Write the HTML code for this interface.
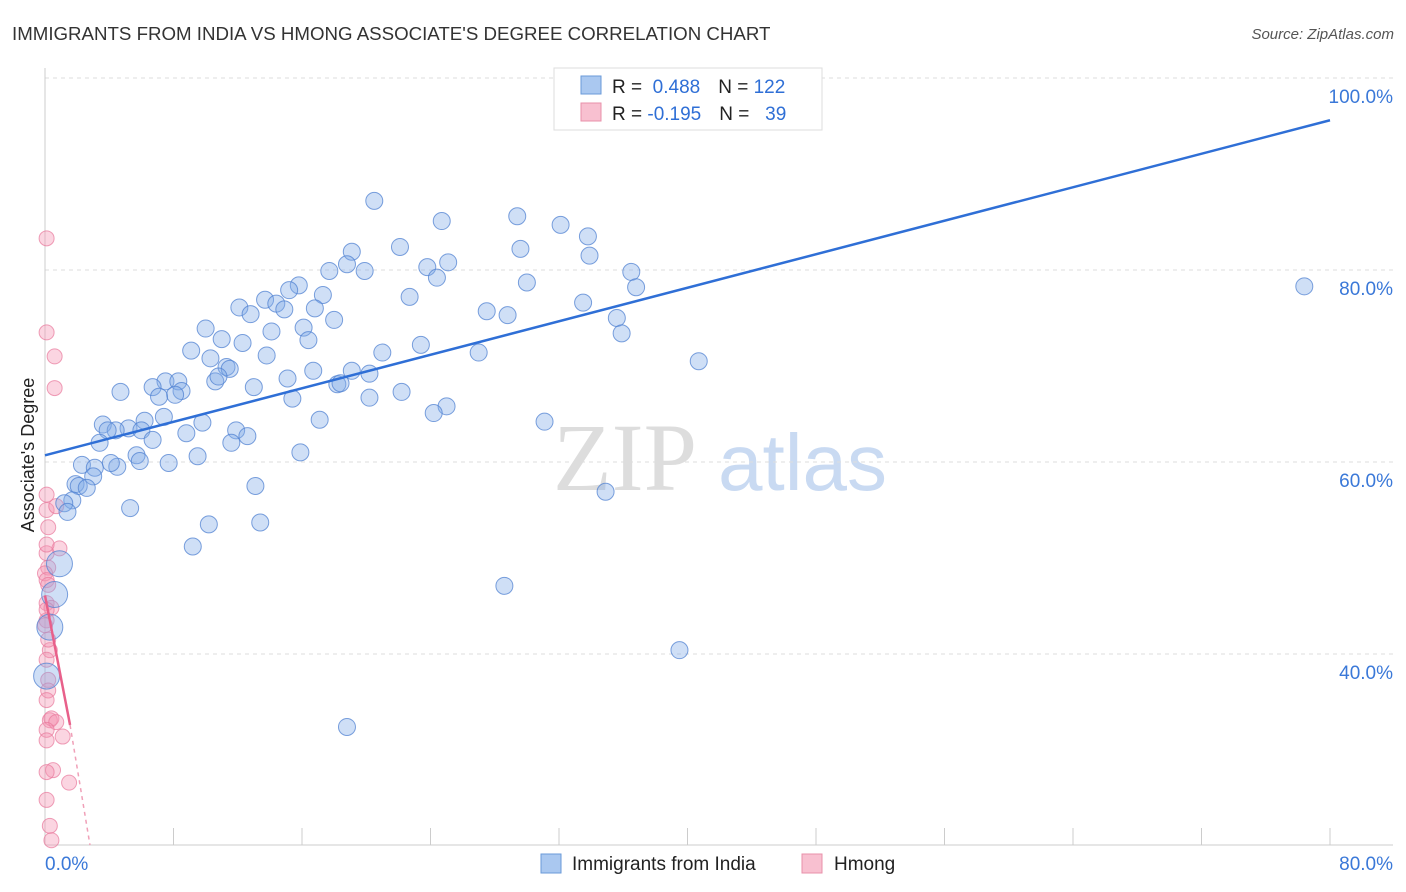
<!DOCTYPE html>
<html><head><meta charset="utf-8"><style>
body{margin:0;background:#fff;font-family:"Liberation Sans",sans-serif;}
svg{display:block}
</style></head><body>
<svg id="chart" width="1406" height="892" font-family="Liberation Sans, sans-serif">
<text x="12" y="40" font-size="18.7" fill="#333">IMMIGRANTS FROM INDIA VS HMONG ASSOCIATE'S DEGREE CORRELATION CHART</text>
<text x="1394" y="39" font-size="15" fill="#555" font-style="italic" text-anchor="end">Source: ZipAtlas.com</text>
<g>
<text x="553" y="490" font-size="96" font-family="Liberation Serif, serif" fill="#ddd">ZIP</text>
<text x="718" y="490" font-size="80" fill="#c9daf2">atlas</text>
</g>
<g id="grid"></g>
<g id="axes"></g>
<g id="marks"></g>
<text transform="translate(34,455) rotate(-90)" font-size="18" fill="#222" text-anchor="middle">Associate's Degree</text>
<g>
<rect x="554" y="68" width="268" height="62" fill="#fff" stroke="#ddd"/>
<rect x="581" y="76" width="20" height="18" fill="#aac8f0" stroke="#6a9ad8"/>
<rect x="581" y="103" width="20" height="18" fill="#f8c0d0" stroke="#e890aa"/>
<text x="612" y="93" font-size="19" fill="#222">R = <tspan fill="#2f6fd6">&#160;0.488</tspan><tspan dx="18">N = </tspan><tspan fill="#2f6fd6">122</tspan></text>
<text x="612" y="120" font-size="19" fill="#222">R = <tspan fill="#2f6fd6">-0.195</tspan><tspan dx="18">N = </tspan><tspan fill="#2f6fd6">&#160;&#160;39</tspan></text>
</g>
<g>
<rect x="541" y="854" width="20" height="19" fill="#aac8f0" stroke="#6a9ad8"/>
<text x="572" y="870" font-size="19" fill="#222">Immigrants from India</text>
<rect x="802" y="854" width="20" height="19" fill="#f8c0d0" stroke="#e890aa"/>
<text x="834" y="870" font-size="19" fill="#222">Hmong</text>
</g>
</svg>
<script>
const yTicks=[40,60,80,100];
const yTickLabels=["40.0%","60.0%","80.0%","100.0%"];
const xTickLabels=["0.0%","80.0%"];
const blueX=[20.5,24.7,29.4,32.1,33.8,22.1,29.6,19.1,33.9,25.1,23.8,17.7,19.9,18.8,36.5,24.4,15.8,15.2,17.3,30.0,36.8,22.7,33.5,12.1,13.7,14.4,14.9,12.8,16.8,27.5,28.8,18.0,35.6,10.0,14.1,16.1,11.0,16.4,35.9,23.4,9.1,12.3,21.0,27.0,10.3,13.8,40.7,11.3,11.5,16.7,19.1,20.2,10.6,10.8,15.1,18.2,18.4,7.5,8.3,4.7,6.7,8.5,8.1,7.1,13.0,22.2,15.4,20.2,25.0,24.2,7.4,17.1,6.2,9.8,3.6,5.2,4.4,3.9,6.0,8.8,11.9,12.6,11.6,6.7,3.4,31.1,5.7,9.5,15.9,5.9,2.3,4.5,4.1,3.1,7.7,3.0,1.9,2.1,2.6,13.1,1.7,1.2,1.4,5.3,34.9,10.2,13.4,9.2,28.6,39.5,18.8,78.4];
const blueY=[87.2,85.1,85.6,84.7,83.5,82.4,82.2,81.9,81.5,80.8,80.3,79.9,79.9,80.6,79.8,79.2,78.4,77.9,77.4,78.7,78.2,77.2,76.6,76.1,76.9,76.5,75.9,75.4,76.0,75.7,75.3,74.8,75.0,73.9,73.6,74.0,72.8,72.7,73.4,72.2,71.6,72.4,71.4,71.4,70.8,71.1,70.5,69.9,69.7,69.5,69.5,69.2,68.4,68.9,68.7,68.1,68.2,68.4,68.4,67.3,67.8,67.4,67.0,66.8,67.8,67.3,66.6,66.7,65.8,65.1,64.7,64.4,64.3,64.1,63.9,63.5,63.3,63.3,63.3,63.0,63.3,62.7,62.0,62.3,62.0,64.2,60.7,60.6,61.0,60.1,59.7,59.5,59.9,59.4,59.9,58.5,57.7,57.5,57.3,57.5,56.0,55.7,54.8,55.2,56.9,53.5,53.7,51.2,47.1,40.4,32.4,78.3];
const blueLargeX=[0.9,0.6,0.3,0.1];
const blueLargeY=[49.4,46.2,42.8,37.7];
const pinkX=[0.1,0.1,0.6,0.6,0.1,0.1,0.7,0.2,0.9,0.1,0.2,0,0.1,0.1,0.4,0.1,0.3,0.2,0.2,0.1,0.3,0.4,0.7,0.1,1.1,0.1,0.5,0.1,1.5,0.1,0.3,0.4,0.1,0,0.2,0.1,0.2,0.1];
const pinkY=[83.3,73.5,71.0,67.7,56.6,55.0,55.4,53.2,51.0,50.5,49.0,48.4,47.7,45.3,44.8,43.5,40.4,37.3,36.2,35.2,33.1,33.3,32.9,32.1,31.4,31.0,27.9,27.7,26.6,24.8,22.1,20.6,44.6,43.0,41.5,39.4,47.2,51.4];
const blueTrend=[[0,60.7],[80,95.6]];
const pinkTrend=[[0,46.1],[1.56,32.6]];
const pinkTrendDash=[[1.56,32.6],[2.8,20.1]];

const X=v=>45+v*(1285/80);
const Y=v=>78+(100-v)*9.6;
const NS="http://www.w3.org/2000/svg";
function mk(tag,attrs,parent){const e=document.createElementNS(NS,tag);for(const k in attrs)e.setAttribute(k,attrs[k]);parent.appendChild(e);return e;}
const grid=document.getElementById('grid'),axes=document.getElementById('axes'),marks=document.getElementById('marks');
yTicks.forEach((t,i)=>{
 const l=mk('line',{x1:45,x2:1393,y1:Y(t),y2:Y(t),stroke:'#ddd','stroke-dasharray':'4 4'},grid);
 
 
 const tx=mk('text',{x:1393,y:Y(t)+25,'font-size':19,fill:'#3a78d8','text-anchor':'end'},axes);
 tx.textContent=yTickLabels[i];
 
 
});
mk('line',{x1:45,x2:45,y1:68,y2:845,stroke:'#ccc'},axes);
mk('line',{x1:45,x2:1393,y1:845,y2:845,stroke:'#ccc'},axes);
for(let i=0;i<=10;i++){
 const t=mk('line',{x1:X(i*8),x2:X(i*8),y1:828,y2:845,stroke:'#ccc'},axes);
 
 
}
const xl0=mk('text',{x:45,y:870,'font-size':19,fill:'#3a78d8'},axes);xl0.textContent=xTickLabels[0];


const xl1=mk('text',{x:1393,y:870,'font-size':19,fill:'#3a78d8','text-anchor':'end'},axes);xl1.textContent=xTickLabels[1];



pinkX.forEach((v,i)=>{
 const c=mk('circle',{cx:X(v),cy:Y(pinkY[i]),r:7.5,fill:'rgba(244,150,180,0.4)',stroke:'rgba(232,120,155,0.7)'},marks);
 
 
});
blueX.forEach((v,i)=>{
 const c=mk('circle',{cx:X(v),cy:Y(blueY[i]),r:8.5,fill:'rgba(130,172,232,0.38)',stroke:'rgba(80,130,210,0.75)'},marks);
 
 
});
blueLargeX.forEach((v,i)=>{
 const c=mk('circle',{cx:X(v),cy:Y(blueLargeY[i]),r:13,fill:'rgba(130,172,232,0.38)',stroke:'rgba(80,130,210,0.75)'},marks);
 
 
});
const bl=mk('line',{x1:X(blueTrend[0][0]),y1:Y(blueTrend[0][1]),x2:X(blueTrend[1][0]),y2:Y(blueTrend[1][1]),stroke:'#2f6fd6','stroke-width':2.5},marks);


const pl=mk('line',{x1:X(pinkTrend[0][0]),y1:Y(pinkTrend[0][1]),x2:X(pinkTrend[1][0]),y2:Y(pinkTrend[1][1]),stroke:'#e8608a','stroke-width':2.5},marks);


const pd=mk('line',{x1:X(pinkTrendDash[0][0]),y1:Y(pinkTrendDash[0][1]),x2:X(pinkTrendDash[1][0]),y2:Y(pinkTrendDash[1][1]),stroke:'#f0a0b8','stroke-width':1.5,'stroke-dasharray':'4 4'},marks);


</script>
</body></html>
